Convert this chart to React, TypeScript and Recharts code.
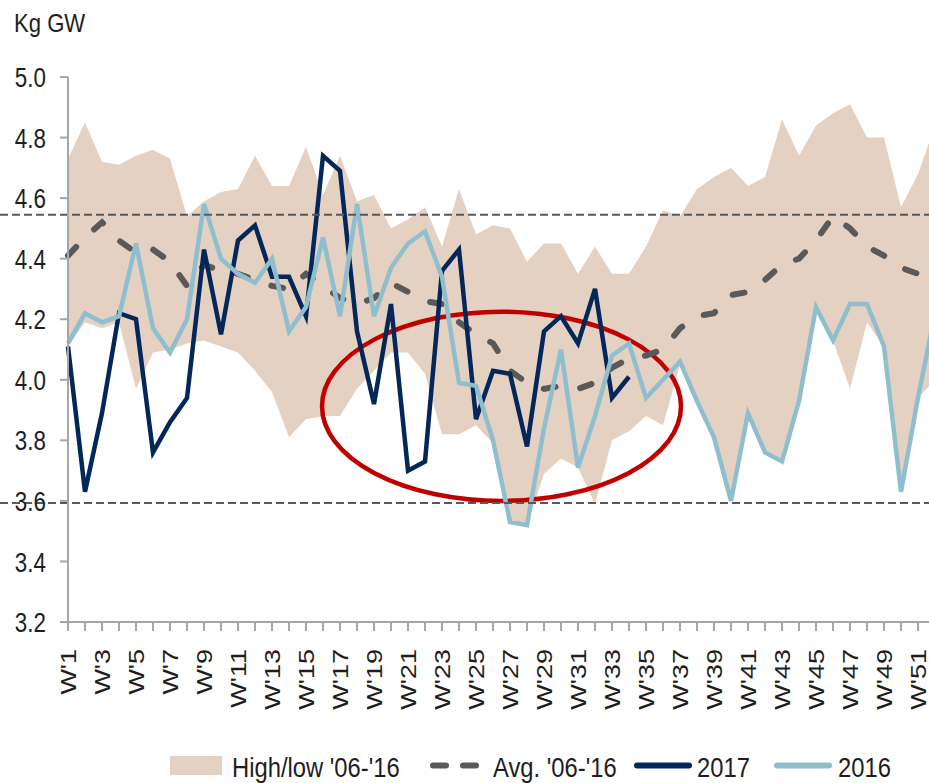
import { ComposedChart, Area, Line, XAxis, YAxis, ReferenceLine, ReferenceArea, Legend } from 'recharts';

const weeks = [
    "W'1", "W'2", "W'3", "W'4", "W'5", "W'6", "W'7", "W'8", "W'9", "W'10",
    "W'11", "W'12", "W'13", "W'14", "W'15", "W'16", "W'17", "W'18", "W'19", "W'20",
    "W'21", "W'22", "W'23", "W'24", "W'25", "W'26", "W'27", "W'28", "W'29", "W'30",
    "W'31", "W'32", "W'33", "W'34", "W'35", "W'36", "W'37", "W'38", "W'39", "W'40",
    "W'41", "W'42", "W'43", "W'44", "W'45", "W'46", "W'47", "W'48", "W'49", "W'50",
    "W'51", "W'52",
];

// high/low range '06-'16
const bandHigh = [
    4.73, 4.85, 4.72, 4.71, 4.74, 4.76, 4.73, 4.54, 4.59, 4.62,
    4.63, 4.74, 4.64, 4.64, 4.77, 4.61, 4.74, 4.59, 4.61, 4.50,
    4.53, 4.57, 4.44, 4.63, 4.48, 4.51, 4.50, 4.39, 4.45, 4.45,
    4.35, 4.44, 4.35, 4.35, 4.44, 4.56, 4.54, 4.63, 4.67, 4.70,
    4.64, 4.67, 4.86, 4.74, 4.84, 4.88, 4.91, 4.80, 4.80, 4.57,
    4.68, 4.84,
];
const bandLow = [
    4.11, 4.19, 4.17, 4.19, 3.97, 4.09, 4.10, 4.12, 4.13, 4.11,
    4.09, 4.03, 3.96, 3.81, 3.87, 3.88, 3.88, 3.97, 4.03, 4.09,
    4.09, 4.02, 3.82, 3.82, 3.85, 3.79, 3.53, 3.52, 3.69, 3.74,
    3.71, 3.59, 3.80, 3.83, 3.88, 3.85, 4.05, 3.93, 3.81, 3.60,
    3.89, 3.76, 3.73, 3.93, 4.24, 4.13, 3.97, 4.19, 4.11, 3.63,
    3.94, 4.00,
];
const avg0616 = [
    4.41, 4.47, 4.52, 4.46, 4.42, 4.43, 4.39, 4.31, 4.38, 4.36,
    4.35, 4.33, 4.31, 4.30, 4.35, 4.31, 4.27, 4.25, 4.27, 4.32,
    4.29, 4.26, 4.25, 4.19, 4.15, 4.12, 4.03, 3.99, 3.97, 3.98,
    3.97, 3.99, 4.04, 4.07, 4.08, 4.10, 4.17, 4.21, 4.22, 4.28,
    4.29, 4.33, 4.38, 4.40, 4.46, 4.54, 4.50, 4.44, 4.41, 4.37,
    4.35, 4.33,
];
const s2017 = [
    4.11, 3.63, 3.89, 4.22, 4.20, 3.76, 3.86, 3.94, 4.43, 4.15,
    4.46, 4.51, 4.34, 4.34, 4.21, 4.74, 4.69, 4.16, 3.92, 4.25,
    3.70, 3.73, 4.36, 4.43, 3.87, 4.03, 4.02, 3.78, 4.16, 4.21,
    4.12, 4.30, 3.94, 4.01,
];
const s2016 = [
    4.12, 4.22, 4.19, 4.21, 4.45, 4.17, 4.09, 4.20, 4.58, 4.40,
    4.35, 4.32, 4.40, 4.16, 4.24, 4.47, 4.21, 4.58, 4.21, 4.37,
    4.45, 4.49, 4.34, 3.99, 3.98, 3.80, 3.53, 3.52, 3.84, 4.10,
    3.71, 3.88, 4.08, 4.12, 3.94, 4.00, 4.06, 3.93, 3.81, 3.60,
    3.89, 3.76, 3.73, 3.93, 4.24, 4.13, 4.25, 4.25, 4.11, 3.63,
    3.94, 4.22,
];
const yTicks = [3.2, 3.4, 3.6, 3.8, 4.0, 4.2, 4.4, 4.6, 4.8, 5.0];
const upperLine = 4.545;
const lowerLine = 3.593;
// circled zone
const zoneWeeks = ["W'16", "W'37"];
const zoneValues = [3.6, 4.225];

const data = weeks.map((week, i) => ({
    week,
    band: [bandLow[i], bandHigh[i]],
    avg: avg0616[i],
    y2017: i < s2017.length ? s2017[i] : null,
    y2016: s2016[i],
}));

const FONT = '"Liberation Sans", Arial, sans-serif';
const TAN = '#E5D1C1';
const GREY = '#595959';
const NAVY = '#04275A';
const LIGHT = '#8FBFCF';
const AXIS = '#A6A6A6';
const TEXT = '#1E1E1E';

const YTick = ({ x, y, payload }: any) => (
    <text
        transform={`translate(${x},${y}) scale(0.8,1)`}
        textAnchor="end"
        dy="0.36em"
        fontSize={28}
        fontFamily={FONT}
        fill={TEXT}>
        {Number(payload.value).toFixed(1)}
    </text>
);

const XTick = ({ x, y, payload, index }: any) => {
    const i = index ?? payload.index;
    if (i % 2 === 1) return <g />;
    return (
        <g transform={`translate(${x + 8},${y}) scale(0.82,1)`}>
            <text transform="rotate(-90)" textAnchor="end" fontSize={27} fontFamily={FONT} fill={TEXT}>
                {payload.value}
            </text>
        </g>
    );
};

const dashedLimit = (p: any) => (
    <line x1={0} y1={p.y1} x2={p.x2} y2={p.y2} stroke={GREY} strokeWidth={2} strokeDasharray="8 4" />
);

const zoneEllipse = (p: any) => (
    <ellipse
        cx={p.x + p.width / 2}
        cy={p.y + p.height / 2}
        rx={p.width / 2 + 1}
        ry={p.height / 2}
        fill="none"
        stroke="#C00000"
        strokeWidth={4.5}
    />
);

const LegendContent = () => (
    <svg width={929} height={40} style={{ display: 'block' }}>
        <g fontFamily={FONT} fontSize={28} fill={TEXT}>
            <rect x={170} y={11} width={52} height={19} fill={TAN} />
            <text transform="translate(232,32) scale(0.85,1)">High/low  '06-'16</text>
            <line x1={433} y1={20.5} x2={446} y2={20.5} stroke={GREY} strokeWidth={6} strokeLinecap="round" />
            <line x1={463} y1={20.5} x2={476} y2={20.5} stroke={GREY} strokeWidth={6} strokeLinecap="round" />
            <text transform="translate(493,32) scale(0.85,1)">Avg. '06-'16</text>
            <line x1={637} y1={20.5} x2={689} y2={20.5} stroke={NAVY} strokeWidth={6} strokeLinecap="round" />
            <text transform="translate(697,32) scale(0.85,1)">2017</text>
            <line x1={777} y1={20.5} x2={829} y2={20.5} stroke={LIGHT} strokeWidth={6} strokeLinecap="round" />
            <text transform="translate(838,32) scale(0.85,1)">2016</text>
        </g>
    </svg>
);

const App = () => (
    <div
        style={{
            position: 'fixed',
            left: 0,
            top: 0,
            width: 929,
            height: 783,
            overflow: 'hidden',
            background: '#fff',
            fontFamily: FONT,
        }}>
        <div
            style={{
                position: 'absolute',
                left: 14,
                top: 8,
                fontSize: 26,
                color: TEXT,
                transform: 'scale(0.85,1)',
                transformOrigin: 'left top',
                whiteSpace: 'nowrap',
            }}>
            Kg GW
        </div>
        <ComposedChart width={940} height={783} data={data} margin={{ top: 77, right: 5, bottom: 101, left: 0 }}>
            <XAxis
                dataKey="week"
                scale="point"
                interval={0}
                height={60}
                tickSize={9}
                tickMargin={18}
                axisLine={{ stroke: AXIS, strokeWidth: 2 }}
                tickLine={{ stroke: AXIS, strokeWidth: 2 }}
                tick={<XTick />}
            />
            <YAxis
                domain={[3.2, 5.0]}
                ticks={yTicks}
                interval={0}
                width={68}
                tickSize={8}
                tickMargin={14}
                axisLine={{ stroke: AXIS, strokeWidth: 2 }}
                tickLine={{ stroke: AXIS, strokeWidth: 2 }}
                tick={<YTick />}
            />
            <Area
                dataKey="band"
                name="High/low '06-'16"
                stroke="none"
                fill={TAN}
                fillOpacity={1}
                dot={false}
                activeDot={false}
                isAnimationActive={false}
            />
            <Line
                dataKey="avg"
                name="Avg. '06-'16"
                stroke={GREY}
                strokeWidth={6}
                strokeDasharray="12 25"
                strokeLinecap="round"
                dot={false}
                activeDot={false}
                isAnimationActive={false}
            />
            <Line
                dataKey="y2017"
                name="2017"
                stroke={NAVY}
                strokeWidth={4.5}
                dot={false}
                activeDot={false}
                isAnimationActive={false}
            />
            <Line
                dataKey="y2016"
                name="2016"
                stroke={LIGHT}
                strokeWidth={4.5}
                dot={false}
                activeDot={false}
                isAnimationActive={false}
            />
            <ReferenceLine y={upperLine} shape={dashedLimit} />
            <ReferenceLine y={lowerLine} shape={dashedLimit} />
            <ReferenceArea
                x1={zoneWeeks[0]}
                x2={zoneWeeks[1]}
                y1={zoneValues[0]}
                y2={zoneValues[1]}
                shape={zoneEllipse}
            />
            <Legend
                verticalAlign="middle"
                align="center"
                layout="horizontal"
                wrapperStyle={{ top: 745, left: 0, width: 929, height: 40 }}
                content={LegendContent}
            />
        </ComposedChart>
    </div>
);

export default App;
